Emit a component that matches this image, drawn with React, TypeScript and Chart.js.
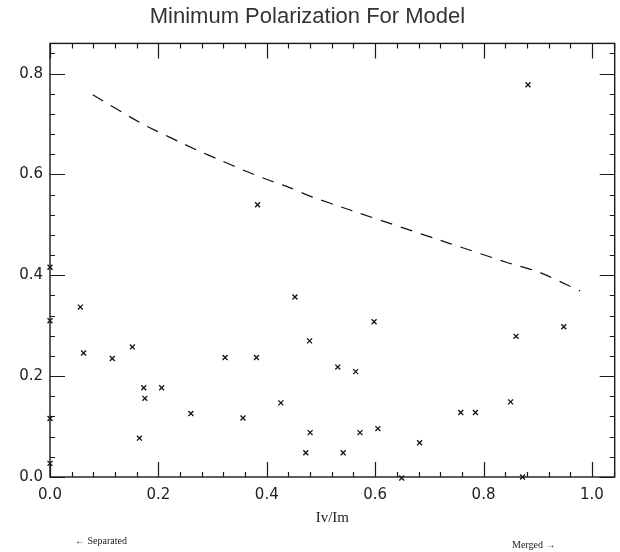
import React, { useEffect, useRef } from "react";
import { Chart, registerables } from "chart.js";

Chart.register(...registerables);

const titleText = "Minimum Polarization For Model";
const xAxisTitle = "Iv/Im";
const leftNote = "\u2190 Separated";
const rightNote = "Merged \u2192";

const xTickLabels = [0, 0.2, 0.4, 0.6, 0.8, 1.0];
const yTickLabels = [0, 0.2, 0.4, 0.6, 0.8];
const minorStep = 0.04;

const obsX = [
  0.0, 0.056, 0.0, 0.062, 0.152, 0.115, 0.323, 0.381, 0.173, 0.206, 0.175, 0.26,
  0.356, 0.426, 0.165, 0.0, 0.0, 0.452, 0.479, 0.48, 0.472, 0.598, 0.531, 0.564,
  0.572, 0.541, 0.605, 0.682, 0.758, 0.785, 0.85, 0.86, 0.948, 0.649, 0.872, 0.882,
  0.383,
];
const obsY = [
  0.416, 0.337, 0.31, 0.246, 0.258, 0.235, 0.237, 0.237, 0.177, 0.177, 0.156, 0.126,
  0.117, 0.147, 0.077, 0.116, 0.027, 0.357, 0.27, 0.088, 0.048, 0.308, 0.218, 0.209,
  0.088, 0.048, 0.096, 0.068, 0.128, 0.128, 0.149, 0.279, 0.298, -0.002, 0.0, 0.778,
  0.54,
];

const modelX = [0.079, 0.171, 0.27, 0.313, 0.356, 0.393, 0.442, 0.485, 0.547, 0.738, 0.842, 0.901, 0.978];
const modelY = [0.758, 0.7, 0.649, 0.629, 0.609, 0.593, 0.574, 0.555, 0.532, 0.463, 0.426, 0.407, 0.369];

const X_MIN = 0;
const X_MAX = 1.042;
const Y_MIN = 0;
const Y_MAX = 0.86;

const frameTicksPlugin = {
  id: "frameTicks",
  afterDraw(chart: any) {
    const { ctx, chartArea } = chart;
    const xs = chart.scales.x;
    const ys = chart.scales.y;
    const { left, right, top, bottom } = chartArea;
    ctx.save();
    ctx.strokeStyle = "#1a1a1a";
    ctx.lineWidth = 1.4;
    ctx.strokeRect(left, top, right - left, bottom - top);
    ctx.lineWidth = 1.2;
    const isMajor = (v: number) => Math.abs(v / 0.2 - Math.round(v / 0.2)) < 1e-6;
    for (let i = 0; i * minorStep <= X_MAX + 1e-9; i++) {
      const v = i * minorStep;
      const p = Math.round(xs.getPixelForValue(v)) + 0.5;
      const len = isMajor(v) ? 15 : 5;
      ctx.beginPath();
      ctx.moveTo(p, bottom);
      ctx.lineTo(p, bottom - len);
      ctx.moveTo(p, top);
      ctx.lineTo(p, top + len);
      ctx.stroke();
    }
    for (let i = 0; i * minorStep <= Y_MAX + 1e-9; i++) {
      const v = i * minorStep;
      const p = Math.round(ys.getPixelForValue(v)) + 0.5;
      const len = isMajor(v) ? 15 : 5;
      ctx.beginPath();
      ctx.moveTo(left, p);
      ctx.lineTo(left + len, p);
      ctx.moveTo(right, p);
      ctx.lineTo(right - len, p);
      ctx.stroke();
    }
    ctx.fillStyle = "#222";
    ctx.font = "10px 'Liberation Serif'";
    ctx.textBaseline = "middle";
    ctx.textAlign = "left";
    ctx.fillText(leftNote, 75, 541);
    ctx.fillText(rightNote, 512, 545);
    ctx.restore();
  },
};

export default function App() {
  const canvasRef = useRef<HTMLCanvasElement | null>(null);

  useEffect(() => {
    const canvas = canvasRef.current;
    if (!canvas) return;
    const chart = new Chart(canvas, {
      type: "scatter",
      data: {
        datasets: [
          {
            label: "Observed",
            data: obsX.map((x, i) => ({ x, y: obsY[i] })),
            pointStyle: "crossRot",
            pointRadius: 3.5,
            pointBorderWidth: 1.3,
            borderColor: "#111",
            backgroundColor: "#111",
            showLine: false,
            clip: false,
          } as any,
          {
            label: "Model",
            data: modelX.map((x, i) => ({ x, y: modelY[i] })),
            showLine: true,
            pointRadius: 0,
            borderColor: "#111",
            borderWidth: 1.2,
            borderDash: [12, 9],
            tension: 0.2,
            clip: false,
          } as any,
        ],
      },
      options: {
        responsive: true,
        maintainAspectRatio: false,
        animation: false,
        layout: { padding: { left: 0, right: 5, top: 0, bottom: 25 } },
        plugins: {
          legend: { display: false },
          tooltip: { enabled: false },
          title: {
            display: true,
            text: titleText,
            color: "#333",
            font: { family: "'Liberation Sans'", size: 22, weight: "normal" },
            padding: { top: 4, bottom: 13 },
          },
        },
        scales: {
          x: {
            type: "linear",
            min: X_MIN,
            max: X_MAX,
            afterBuildTicks: (scale: any) => {
              scale.ticks = xTickLabels.map((v) => ({ value: v }));
            },
            afterFit: (scale: any) => {
              scale.height = 50;
            },
            grid: { display: false, drawTicks: false },
            border: { display: false },
            ticks: {
              padding: 9,
              color: "#222",
              font: { family: "'DejaVu Sans'", size: 15 },
              callback: (v: any) => Number(v).toFixed(1),
            },
            title: {
              display: true,
              text: xAxisTitle,
              color: "#222",
              font: { family: "'Liberation Serif'", size: 15 },
              padding: { top: 0, bottom: 0 },
            },
          },
          y: {
            type: "linear",
            min: Y_MIN,
            max: Y_MAX,
            afterBuildTicks: (scale: any) => {
              scale.ticks = yTickLabels.map((v) => ({ value: v }));
            },
            afterFit: (scale: any) => {
              scale.width = 50;
            },
            grid: { display: false, drawTicks: false },
            border: { display: false },
            ticks: {
              padding: 7,
              color: "#222",
              font: { family: "'DejaVu Sans'", size: 15 },
              callback: (v: any) => Number(v).toFixed(1),
            },
          },
        },
      },
      plugins: [frameTicksPlugin],
    });
    return () => chart.destroy();
  }, []);

  return (
    <div style={{ position: "fixed", left: 0, top: 0, width: 620, height: 552, background: "#fff" }}>
      <canvas ref={canvasRef} />
    </div>
  );
}
